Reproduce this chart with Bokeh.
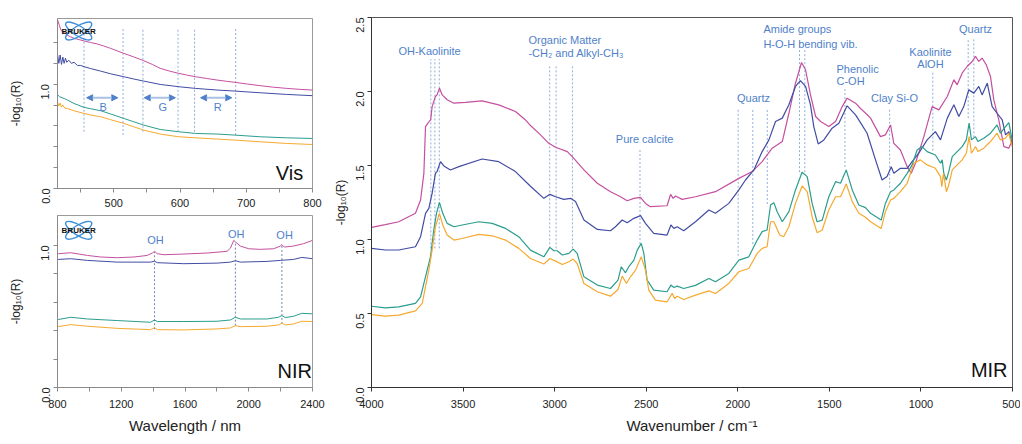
import math
from bokeh.plotting import figure
from bokeh.layouts import row, column
from bokeh.models import Range1d, FixedTicker, NumeralTickFormatter, Arrow, NormalHead
from bokeh.core.properties import value
from bokeh.embed import file_html
from bokeh.resources import INLINE

FONT = "Liberation Sans"
C_MAG = "#c4509f"
C_BLU = "#414ca3"
C_TEA = "#2b9d8e"
C_ORA = "#f5a92f"
C_ANN = "#4f7fca"
C_DOT = "#8eaedc"
C_LOGO = "#3f8fd8"

# ---------------- Vis data (wavelength nm, -log10 R) ----------------
VIS_NM_MAG = [415, 418, 420, 423, 426, 430, 434, 440, 446, 452, 458, 465, 475, 485, 495, 505, 515, 530, 545, 558,
              570, 584, 598, 610, 623, 640, 656, 670, 683, 700, 721, 740, 761, 780, 800]
VIS_MAG = [1.62, 1.56, 1.52, 1.50, 1.49, 1.47, 1.456, 1.44, 1.43, 1.42, 1.41, 1.40, 1.386, 1.366, 1.344, 1.320, 1.296,
           1.262, 1.226, 1.19, 1.152, 1.126, 1.104, 1.088, 1.072, 1.055, 1.040, 1.028, 1.018, 1.003, 0.986, 0.972,
           0.960, 0.951, 0.944]
VIS_NM_BLU = [415, 417, 419, 421, 423, 425, 427, 429, 432, 436, 440, 445, 450, 455, 465, 480, 495, 515, 530, 545, 570,
              598, 623, 656, 683, 721, 761, 800]
VIS_BLU = [1.29, 1.20, 1.28, 1.19, 1.26, 1.20, 1.25, 1.21, 1.23, 1.20, 1.21, 1.18, 1.18, 1.168, 1.150, 1.126, 1.100,
           1.072, 1.050, 1.030, 0.998, 0.976, 0.960, 0.944, 0.934, 0.918, 0.902, 0.890]
VIS_NM_TEA = [415, 418, 422, 426, 430, 440, 455, 465, 480, 495, 515, 530, 545, 570, 598, 623, 656, 683, 721, 761, 800]
VIS_TEA = [0.90, 0.88, 0.87, 0.86, 0.848, 0.815, 0.778, 0.765, 0.746, 0.715, 0.672, 0.640, 0.608, 0.566, 0.544, 0.528,
           0.522, 0.512, 0.496, 0.486, 0.480]
VIS_NM_ORA = [415, 417, 419, 421, 423, 426, 430, 440, 455, 465, 480, 495, 515, 530, 545, 570, 598, 623, 656, 683, 721,
              761, 800]
VIS_ORA = [0.83, 0.79, 0.82, 0.78, 0.80, 0.77, 0.768, 0.745, 0.720, 0.705, 0.688, 0.660, 0.624, 0.592, 0.560, 0.522,
           0.496, 0.486, 0.474, 0.464, 0.448, 0.432, 0.422]
VIS_LINES_X = [455, 514, 544, 597, 622, 684]
VIS_LINES_TOP = [1.53, 1.53, 1.53, 1.53, 1.53, 1.53]
VIS_LINES_BOT = [0.544, 0.512, 0.544, 0.544, 0.544, 0.512]
VIS_BANDS = ["B", "G", "R"]
VIS_BAND_START = [459, 546, 631]
VIS_BAND_END = [506, 593, 678]
VIS_BAND_LABEL_X = [484, 574, 657]
VIS_XTICKS = [500, 600, 700, 800]
VIS_XMINOR = [450, 550, 650, 750]

# ---------------- NIR data ----------------
NIR_NM_MAG = [804, 883, 988, 1071, 1175, 1280, 1363, 1395, 1409, 1426, 1468, 1593, 1739, 1864, 1885, 1906, 1916,
              1947, 2000, 2072, 2156, 2198, 2208, 2223, 2281, 2344, 2400]
NIR_MAG = [0.941, 0.948, 0.929, 0.918, 0.913, 0.918, 0.929, 0.946, 0.958, 0.941, 0.934, 0.939, 0.946, 0.958, 0.981,
           1.035, 1.024, 0.995, 0.976, 0.972, 0.976, 0.995, 1.005, 0.988, 0.995, 1.012, 1.035]
NIR_NM_BLU = [804, 883, 988, 1175, 1384, 1409, 1426, 1593, 1801, 1885, 1916, 1947, 2114, 2198, 2281, 2333, 2400]
NIR_BLU = [0.901, 0.906, 0.894, 0.882, 0.882, 0.889, 0.878, 0.871, 0.875, 0.882, 0.892, 0.882, 0.887, 0.894, 0.901,
           0.915, 0.906]
NIR_NM_TEA = [804, 883, 988, 1175, 1384, 1409, 1426, 1593, 1801, 1885, 1916, 1947, 2114, 2187, 2208, 2229, 2281,
              2333, 2400]
NIR_TEA = [0.478, 0.494, 0.482, 0.471, 0.459, 0.475, 0.464, 0.464, 0.466, 0.475, 0.494, 0.482, 0.482, 0.494, 0.506,
           0.492, 0.501, 0.522, 0.518]
NIR_NM_ORA = NIR_NM_TEA
NIR_ORA = [0.428, 0.442, 0.431, 0.416, 0.407, 0.421, 0.407, 0.405, 0.412, 0.419, 0.435, 0.428, 0.431, 0.440, 0.452,
           0.440, 0.447, 0.466, 0.464]
NIR_OH_X = [1409, 1916, 2208]
NIR_OH_TOP = [0.953, 1.02, 1.0]
NIR_OH_BOT = [0.41, 0.435, 0.447]
NIR_OH_LABEL_X = [1415, 1922, 2225]
NIR_OH_LABEL_Y = [1.04, 1.082, 1.075]
NIR_XTICKS = [800, 1200, 1600, 2000, 2400]
NIR_XMINOR = [1000, 1400, 1800, 2200]

# ---------------- MIR data (wavenumber cm-1, -log10 R) ----------------
MIR_WN_MAG = [4000, 3925, 3851, 3760, 3732, 3714, 3705, 3690, 3677, 3669, 3651, 3642, 3629, 3614, 3587, 3550, 3487,
              3396, 3305, 3214, 3159, 3132, 3077, 3032, 2995, 2931, 2904, 2840, 2767, 2695, 2640, 2604, 2567, 2531,
              2504, 2477, 2386, 2367, 2353, 2340, 2304, 2231, 2122, 1994, 1921, 1867, 1812, 1757, 1721, 1685, 1652,
              1630, 1603, 1575, 1548, 1503, 1466, 1430, 1403, 1357, 1330, 1303, 1275, 1221, 1194, 1166, 1148, 1112,
              1075, 1053, 1030, 984, 939, 902, 856, 820, 802, 775, 748, 720, 702, 684, 666, 643, 620, 602, 575, 547,
              520, 500]
MIR_MAG = [1.082, 1.100, 1.120, 1.177, 1.267, 1.447, 1.763, 1.79, 1.808, 1.898, 1.966, 1.977, 2.023, 1.977, 1.944,
           1.921, 1.926, 1.937, 1.910, 1.865, 1.808, 1.77, 1.707, 1.650, 1.623, 1.594, 1.56, 1.47, 1.38, 1.323, 1.289,
           1.262, 1.278, 1.285, 1.244, 1.222, 1.228, 1.305, 1.278, 1.294, 1.271, 1.289, 1.323, 1.413, 1.459, 1.526,
           1.617, 1.662, 1.853, 2.056, 2.196, 2.147, 1.977, 1.831, 1.797, 1.763, 1.797, 1.898, 1.955, 1.921, 1.885,
           1.855, 1.820, 1.695, 1.707, 1.774, 1.650, 1.605, 1.492, 1.447, 1.515, 1.695, 1.898, 1.876, 1.966, 2.079,
           2.045, 2.124, 2.169, 2.203, 2.237, 2.203, 2.226, 2.18, 2.101, 1.943, 1.808, 1.628, 1.617, 1.673]
MIR_WN_BLU = [4000, 3924, 3851, 3760, 3732, 3705, 3687, 3669, 3651, 3642, 3623, 3605, 3569, 3523, 3396, 3305, 3214,
              3132, 3059, 3026, 2995, 2950, 2913, 2886, 2840, 2767, 2695, 2668, 2631, 2604, 2567, 2531, 2504, 2459,
              2386, 2365, 2349, 2331, 2295, 2231, 2158, 2122, 2049, 1994, 1958, 1912, 1867, 1830, 1794, 1757, 1721,
              1685, 1658, 1630, 1603, 1585, 1561, 1530, 1485, 1448, 1403, 1357, 1330, 1294, 1248, 1212, 1185, 1162,
              1148, 1112, 1075, 1048, 1012, 966, 921, 893, 856, 820, 793, 766, 739, 711, 684, 666, 638, 611, 584, 556,
              538, 520, 502]
MIR_BLU = [0.940, 0.929, 0.929, 0.951, 1.019, 1.177, 1.210, 1.312, 1.447, 1.459, 1.526, 1.497, 1.470, 1.492, 1.544,
           1.526, 1.459, 1.360, 1.278, 1.305, 1.289, 1.271, 1.278, 1.256, 1.132, 1.068, 1.059, 1.086, 1.132, 1.113,
           1.143, 1.161, 1.109, 1.041, 1.030, 1.098, 1.075, 1.086, 1.059, 1.120, 1.199, 1.177, 1.244, 1.335, 1.402,
           1.470, 1.594, 1.673, 1.797, 1.820, 1.910, 2.034, 2.074, 2.034, 1.910, 1.763, 1.646, 1.673, 1.752, 1.786,
           1.903, 1.842, 1.79, 1.718, 1.538, 1.402, 1.425, 1.492, 1.447, 1.481, 1.481, 1.526, 1.583, 1.673, 1.729,
           1.673, 1.820, 1.910, 1.831, 1.898, 2.011, 1.989, 2.034, 1.977, 2.056, 1.898, 1.853, 1.808, 1.707, 1.729,
           1.650]
MIR_WN_TEA = [4000, 3924, 3851, 3760, 3732, 3714, 3696, 3678, 3660, 3645, 3629, 3611, 3587, 3550, 3505, 3414, 3341,
              3268, 3196, 3132, 3059, 3026, 3004, 2986, 2958, 2922, 2899, 2877, 2840, 2767, 2695, 2654, 2636, 2613,
              2595, 2567, 2549, 2527, 2513, 2495, 2459, 2386, 2365, 2349, 2331, 2295, 2231, 2158, 2122, 2049, 1994,
              1940, 1894, 1867, 1840, 1821, 1803, 1785, 1757, 1721, 1685, 1649, 1621, 1594, 1567, 1539, 1503, 1466,
              1439, 1408, 1375, 1339, 1303, 1275, 1217, 1194, 1166, 1148, 1112, 1075, 1048, 1021, 994, 966, 921, 893,
              884, 875, 861, 848, 829, 802, 775, 752, 737, 724, 702, 689, 657, 620, 584, 566, 538, 520, 502]
MIR_TEA = [0.549, 0.538, 0.545, 0.568, 0.613, 0.703, 0.793, 0.883, 1.064, 1.177, 1.251, 1.177, 1.109, 1.086, 1.098,
           1.120, 1.109, 1.075, 1.019, 0.928, 0.883, 0.947, 0.924, 0.924, 0.895, 0.906, 0.935, 0.906, 0.748, 0.692,
           0.669, 0.725, 0.816, 0.775, 0.816, 0.861, 0.928, 0.974, 0.906, 0.725, 0.658, 0.647, 0.692, 0.676, 0.685,
           0.669, 0.690, 0.737, 0.714, 0.771, 0.861, 0.883, 0.996, 1.053, 1.064, 1.233, 1.249, 1.188, 1.120, 1.188,
           1.335, 1.454, 1.425, 1.244, 1.120, 1.131, 1.289, 1.391, 1.380, 1.470, 1.335, 1.233, 1.215, 1.177, 1.131,
           1.244, 1.323, 1.335, 1.380, 1.447, 1.504, 1.605, 1.628, 1.594, 1.571, 1.515, 1.538, 1.447, 1.402, 1.459,
           1.560, 1.594, 1.628, 1.673, 1.786, 1.673, 1.695, 1.662, 1.684, 1.718, 1.774, 1.718, 1.763, 1.790, 1.673]
MIR_WN_ORA = [4000, 3924, 3851, 3760, 3723, 3705, 3687, 3669, 3651, 3629, 3611, 3587, 3550, 3505, 3414, 3341, 3268,
              3196, 3132, 3059, 3026, 2995, 2958, 2922, 2899, 2877, 2840, 2767, 2695, 2654, 2631, 2608, 2586, 2558,
              2527, 2504, 2486, 2450, 2386, 2358, 2345, 2331, 2295, 2231, 2158, 2122, 2049, 1994, 1940, 1894, 1867,
              1840, 1821, 1803, 1771, 1750, 1721, 1685, 1649, 1621, 1594, 1567, 1539, 1503, 1466, 1439, 1408, 1375,
              1339, 1303, 1275, 1217, 1194, 1166, 1148, 1112, 1075, 1039, 1003, 966, 921, 893, 886, 877, 861, 848, 829,
              802, 775, 752, 737, 724, 702, 689, 657, 620, 584, 566, 538, 520, 502]
MIR_ORA = [0.493, 0.482, 0.489, 0.518, 0.568, 0.681, 0.793, 0.928, 1.086, 1.177, 1.098, 1.030, 0.996, 1.007, 1.035,
           1.025, 0.996, 0.940, 0.872, 0.834, 0.872, 0.854, 0.831, 0.850, 0.868, 0.838, 0.703, 0.647, 0.617, 0.662,
           0.753, 0.703, 0.748, 0.793, 0.883, 0.793, 0.658, 0.590, 0.579, 0.636, 0.601, 0.617, 0.595, 0.624, 0.653,
           0.635, 0.703, 0.782, 0.804, 0.906, 0.940, 0.951, 1.120, 1.120, 1.030, 1.019, 1.086, 1.244, 1.362, 1.323,
           1.154, 1.046, 1.064, 1.199, 1.289, 1.289, 1.375, 1.256, 1.177, 1.150, 1.120, 1.075, 1.188, 1.267, 1.278,
           1.323, 1.380, 1.515, 1.538, 1.504, 1.481, 1.425, 1.357, 1.447, 1.323, 1.368, 1.470, 1.504, 1.538, 1.583,
           1.695, 1.583, 1.628, 1.594, 1.617, 1.662, 1.718, 1.673, 1.684, 1.718, 1.628]

MIR_LINE_X = [3676, 3654, 3630, 3027, 2992, 2903, 2534, 1998, 1918, 1839, 1663, 1634, 1415, 1171, 935, 742, 711]
MIR_LINE_TOP = [2.22, 2.22, 2.22, 2.18, 2.18, 2.18, 1.61, 1.88, 1.88, 1.88, 2.29, 2.29, 2.03, 1.89, 2.14, 2.36, 2.36]
MIR_LINE_BOT = [0.94, 0.94, 0.94, 0.94, 0.94, 0.94, 0.97, 0.89, 0.97, 1.24, 1.455, 1.455, 1.49, 1.35, 1.60, 1.82, 1.69]

MIR_LABELS_CENTER = ["OH-Kaolinite", "Pure calcite", "Quartz", "Clay Si-O", "Kaolinite", "AlOH", "Quartz"]
MIR_LABELS_CENTER_X = [3683, 2509, 1914, 1144, 948, 948, 702]
MIR_LABELS_CENTER_Y = [2.277, 1.682, 1.953, 1.953, 2.270, 2.189, 2.419]
MIR_LABELS_LEFT = ["Organic Matter", "-CH\u2082 and Alkyl-CH\u2083", "Amide groups", "H-O-H bending vib.",
                   "Phenolic", "C-OH"]
MIR_LABELS_LEFT_X = [3143, 3143, 1860, 1860, 1461, 1461]
MIR_LABELS_LEFT_Y = [2.351, 2.257, 2.419, 2.324, 2.155, 2.074]
MIR_XTICKS = [4000, 3500, 3000, 2500, 2000, 1500, 1000, 500]
MIR_YTICKS = [0.0, 0.5, 1.0, 1.5, 2.0, 2.5]

YLABEL = "-log\u2081\u2080(R)"


def style(p, axis_color, outline_color):
    p.outline_line_color = outline_color
    p.xgrid.visible = False
    p.ygrid.visible = False
    for ax in p.axis:
        ax.axis_line_color = axis_color
        ax.major_tick_line_color = axis_color
        ax.minor_tick_line_color = axis_color
        ax.major_tick_out = 4
        ax.major_tick_in = 0
        ax.minor_tick_out = 4
        ax.minor_tick_in = 0
        ax.major_label_text_font = FONT
        ax.major_label_text_font_size = "11px"
        ax.major_label_text_color = "#222222"
        ax.axis_label_text_font = FONT
        ax.axis_label_text_font_style = "normal"
        ax.axis_label_text_color = "#222222"


def logo(p, x, y):
    p.ellipse(x=[x, x], y=[y, y], width=[30, 30], height=[10, 10], angle=[0.55, -0.55],
              width_units="screen", height_units="screen", fill_color=None,
              line_color=C_LOGO, line_width=1.4)
    p.text(x=[x], y=[y], text=["BRUKER"], text_font=value(FONT), text_font_size="8px",
           text_font_style="bold", text_color="#111111", text_align="center", text_baseline="middle")


# ---------------- Vis figure ----------------
vis = figure(width=330, height=214, x_range=Range1d(415, 800), y_range=Range1d(0, 1.63),
             output_backend="svg", toolbar_location=None,
             min_border_left=57, min_border_right=18, min_border_top=18, min_border_bottom=26)
style(vis, "#8a8a8a", "#9a9a9a")
vis.xaxis.ticker = FixedTicker(ticks=VIS_XTICKS, minor_ticks=VIS_XMINOR)
vis.yaxis.ticker = FixedTicker(ticks=[0, 1], minor_ticks=[0.2, 0.4, 0.6, 0.8, 1.2, 1.4])
vis.yaxis.formatter = NumeralTickFormatter(format="0.0")
vis.yaxis.major_label_orientation = math.pi / 2
vis.yaxis.major_label_standoff = 8
vis.xaxis.major_label_standoff = 6
vis.yaxis.axis_label = YLABEL
vis.yaxis.axis_label_text_font_size = "12px"
vis.yaxis.axis_label_standoff = 12

vis.segment(x0=VIS_LINES_X, y0=VIS_LINES_BOT, x1=VIS_LINES_X, y1=VIS_LINES_TOP,
            line_color=C_DOT, line_dash="2 2", line_width=1)
vis.line(VIS_NM_MAG, VIS_MAG, line_color=C_MAG, line_width=1)
vis.line(VIS_NM_BLU, VIS_BLU, line_color=C_BLU, line_width=1)
vis.line(VIS_NM_TEA, VIS_TEA, line_color=C_TEA, line_width=1)
vis.line(VIS_NM_ORA, VIS_ORA, line_color=C_ORA, line_width=1)
for xs, xe in zip(VIS_BAND_START, VIS_BAND_END):
    vis.add_layout(Arrow(x_start=xs, y_start=0.87, x_end=xe, y_end=0.87,
                         start=NormalHead(size=6, fill_color=C_ANN, line_color=C_ANN),
                         end=NormalHead(size=6, fill_color=C_ANN, line_color=C_ANN),
                         line_color="#a9c1e3", line_width=2))
vis.text(x=VIS_BAND_LABEL_X, y=[0.784] * 3, text=VIS_BANDS, text_font=value(FONT), text_font_size="11px",
         text_color=C_ANN, text_align="center", text_baseline="middle")
vis.text(x=[786], y=[0.147], text=["Vis"], text_font=value(FONT), text_font_size="20px",
         text_color="#111111", text_align="right", text_baseline="middle")
logo(vis, 447, 1.51)

# ---------------- NIR figure ----------------
nir = figure(width=330, height=224, x_range=Range1d(800, 2400), y_range=Range1d(0, 1.21),
             output_backend="svg", toolbar_location=None,
             min_border_left=57, min_border_right=18, min_border_top=1, min_border_bottom=51)
style(nir, "#8a8a8a", "#9a9a9a")
nir.xaxis.ticker = FixedTicker(ticks=NIR_XTICKS, minor_ticks=NIR_XMINOR)
nir.yaxis.ticker = FixedTicker(ticks=[0, 1], minor_ticks=[0.2, 0.4, 0.6, 0.8])
nir.yaxis.formatter = NumeralTickFormatter(format="0.0")
nir.yaxis.major_label_orientation = math.pi / 2
nir.yaxis.major_label_standoff = 8
nir.xaxis.major_label_standoff = 8
nir.yaxis.axis_label = YLABEL
nir.yaxis.axis_label_text_font_size = "12px"
nir.yaxis.axis_label_standoff = 12
nir.xaxis.axis_label = "Wavelength / nm"
nir.xaxis.axis_label_text_font_size = "15px"
nir.xaxis.axis_label_standoff = 6

nir.segment(x0=NIR_OH_X, y0=NIR_OH_BOT, x1=NIR_OH_X, y1=NIR_OH_TOP,
            line_color="#6f86b3", line_dash="2 2", line_width=1)
nir.line(NIR_NM_MAG, NIR_MAG, line_color=C_MAG, line_width=1)
nir.line(NIR_NM_BLU, NIR_BLU, line_color=C_BLU, line_width=1)
nir.line(NIR_NM_TEA, NIR_TEA, line_color=C_TEA, line_width=1)
nir.line(NIR_NM_ORA, NIR_ORA, line_color=C_ORA, line_width=1)
nir.text(x=NIR_OH_LABEL_X, y=NIR_OH_LABEL_Y, text=["OH"] * 3, text_font=value(FONT), text_font_size="11px",
         text_color=C_ANN, text_align="center", text_baseline="middle")
nir.text(x=[2397], y=[0.118], text=["NIR"], text_font=value(FONT), text_font_size="20px",
         text_color="#111111", text_align="right", text_baseline="middle")
logo(nir, 933, 1.106)

# ---------------- MIR figure ----------------
mir = figure(width=690, height=438, x_range=Range1d(4000, 500), y_range=Range1d(0, 2.5),
             output_backend="svg", toolbar_location=None,
             min_border_left=41, min_border_right=8, min_border_top=17, min_border_bottom=51)
style(mir, "#333333", "#555555")
mir.xaxis.ticker = FixedTicker(ticks=MIR_XTICKS)
mir.yaxis.ticker = FixedTicker(ticks=MIR_YTICKS)
mir.yaxis.formatter = NumeralTickFormatter(format="0.0")
mir.yaxis.major_label_orientation = math.pi / 2
mir.yaxis.major_label_standoff = 8
mir.xaxis.major_label_standoff = 8
mir.yaxis.axis_label = YLABEL
mir.yaxis.axis_label_text_font_size = "12px"
mir.yaxis.axis_label_standoff = 1
mir.xaxis.axis_label = "Wavenumber / cm\u207b\u00b9"
mir.xaxis.axis_label_text_font_size = "15px"
mir.xaxis.axis_label_standoff = 6

mir.segment(x0=MIR_LINE_X, y0=MIR_LINE_BOT, x1=MIR_LINE_X, y1=MIR_LINE_TOP,
            line_color=C_DOT, line_dash="2 2", line_width=1)
mir.line(MIR_WN_MAG, MIR_MAG, line_color=C_MAG, line_width=1.2)
mir.line(MIR_WN_BLU, MIR_BLU, line_color=C_BLU, line_width=1.2)
mir.line(MIR_WN_TEA, MIR_TEA, line_color=C_TEA, line_width=1.2)
mir.line(MIR_WN_ORA, MIR_ORA, line_color=C_ORA, line_width=1.2)
mir.text(x=MIR_LABELS_CENTER_X, y=MIR_LABELS_CENTER_Y, text=MIR_LABELS_CENTER, text_font=value(FONT),
         text_font_size="11px", text_color=C_ANN, text_align="center", text_baseline="middle")
mir.text(x=MIR_LABELS_LEFT_X, y=MIR_LABELS_LEFT_Y, text=MIR_LABELS_LEFT, text_font=value(FONT),
         text_font_size="11px", text_color=C_ANN, text_align="left", text_baseline="middle")
mir.text(x=[527], y=[0.115], text=["MIR"], text_font=value(FONT), text_font_size="20px",
         text_color="#111111", text_align="right", text_baseline="middle")

layout = row(column(vis, nir), mir)
open("out.html", "w").write(file_html(layout, INLINE))
